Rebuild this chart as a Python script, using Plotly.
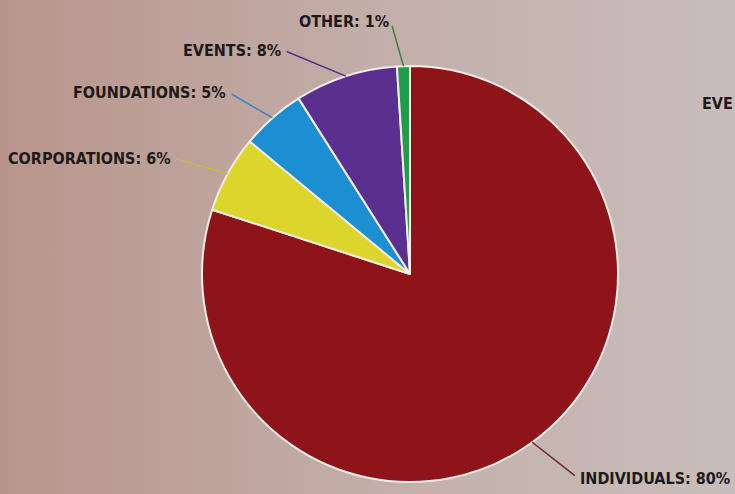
import math
import plotly.graph_objects as go

# ---- data ----
categories = ["INDIVIDUALS", "CORPORATIONS", "FOUNDATIONS", "EVENTS", "OTHER"]
values = [80, 6, 5, 8, 1]
colors = ["#8e1419", "#dcd62c", "#1b8fd2", "#5a2f8f", "#1f9e4a"]
line_colors = ["#6a2a2a", "#c9b84a", "#3d86b8", "#4a3480", "#3f7a4a"]
edge_text = "EVE"

W, H = 735, 494
CX, CY, R = 410, 274, 208
FONT = "DejaVu Sans Condensed, Roboto Condensed, Liberation Sans Narrow, Roboto"
FSIZE = 16

# label anchor points (pixels, layout only): (x edge, y centre, anchor side)
label_pos = {
    "INDIVIDUALS": (578, 478, "left"),
    "CORPORATIONS": (173, 158, "right"),
    "FOUNDATIONS": (228, 92, "right"),
    "EVENTS": (283, 50, "right"),
    "OTHER": (391, 22, "right"),
}

fig = go.Figure()

# background gradient
fig.add_trace(go.Scatter(
    x=[0, 1, 1, 0, 0], y=[0, 0, 1, 1, 0], fill="toself", mode="none",
    fillgradient=dict(type="horizontal",
                      colorscale=[[0, "#b8958c"], [0.55, "#c4b0ab"], [1, "#c8bdbb"]]),
    hoverinfo="skip", showlegend=False, xaxis="x", yaxis="y"))

fig.add_trace(go.Pie(
    labels=categories, values=values, sort=False, direction="clockwise",
    rotation=0, textinfo="none", hole=0,
    marker=dict(colors=colors, line=dict(color="#f4ece6", width=2)),
    domain=dict(x=[(CX - R) / W, (CX + R) / W],
                y=[(H - CY - R) / H, (H - CY + R) / H]),
    showlegend=False))

annotations = []
total = sum(values)
cum = 0
for cat, v, lc in zip(categories, values, line_colors):
    mid = (cum + v / 2) / total * 2 * math.pi
    cum += v
    px = CX + R * math.sin(mid)
    py = CY - R * math.cos(mid)
    tx, ty, side = label_pos[cat]
    annotations.append(dict(
        x=px / W, y=1 - py / H, xref="paper", yref="paper",
        ax=tx - px, ay=ty - py, axref="pixel", ayref="pixel",
        xanchor=side, yanchor="middle",
        text=f"{cat}: {v}%", showarrow=True, arrowhead=0, arrowwidth=1.5,
        arrowcolor=lc, standoff=0, startstandoff=4,
        font=dict(family=FONT, size=FSIZE, color="#1e1919", weight="bold")))

# partial text at the right edge
annotations.append(dict(
    x=1.0, y=1 - 103 / H, xref="paper", yref="paper", xanchor="right",
    yanchor="middle", showarrow=False, text=edge_text,
    font=dict(family=FONT, size=FSIZE, color="#1e1919", weight="bold")))

fig.update_layout(
    width=W, height=H, margin=dict(l=0, r=0, t=0, b=0),
    paper_bgcolor="#c2aca6", plot_bgcolor="rgba(0,0,0,0)",
    xaxis=dict(range=[0, 1], domain=[0, 1], visible=False, fixedrange=True),
    yaxis=dict(range=[0, 1], domain=[0, 1], visible=False, fixedrange=True),
    annotations=annotations)

fig.write_html("out.html", post_script="document.body.style.margin='0px';",
               config={"displayModeBar": False})
